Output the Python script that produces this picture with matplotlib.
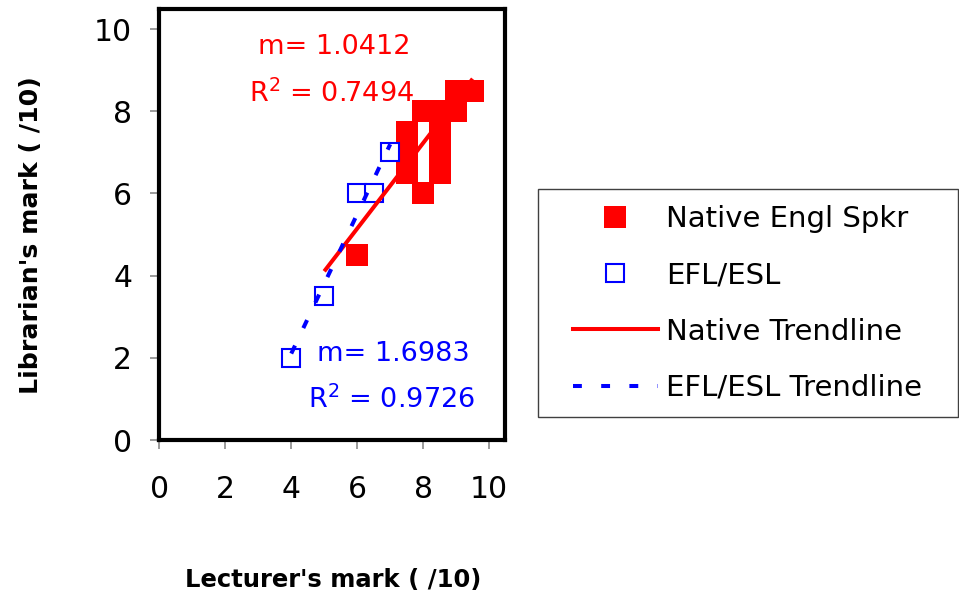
import matplotlib
matplotlib.use("Agg")
import matplotlib.pyplot as plt
from matplotlib.lines import Line2D
from matplotlib.patches import Rectangle
import numpy as np

# data
native_x = [6, 7.5, 7.5, 7.5, 8, 8, 8.5, 8.5, 8.5, 8.5, 9, 9, 9.5]
native_y = [4.5, 7.5, 7, 6.5, 6, 8, 8, 7.5, 7, 6.5, 8, 8.5, 8.5]
efl_x = [4, 5, 6, 6.5, 7]
efl_y = [2, 3.5, 6, 6, 7]

# trendlines (slope from labels, intercept estimated)
native_slope = 1.0412
native_intercept = -1.1
native_range = [5, 9.5]
native_r2 = 0.7494
efl_slope = 1.6983
efl_intercept = -4.69
efl_range = [4, 7]
efl_r2 = 0.9726

ticks = [0, 2, 4, 6, 8, 10]
legend_labels = ["Native Engl Spkr", "EFL/ESL", "Native Trendline", "EFL/ESL Trendline"]

RED = "#FF0000"
BLUE = "#0000FF"

plt.rcParams["font.family"] = ["DejaVu Sans"]
plt.rcParams["mathtext.fontset"] = "dejavusans"

fig = plt.figure(figsize=(9.59, 6.07), dpi=100)
ax = fig.add_axes([159.3 / 959, 1 - 440 / 607, (505 - 159.3) / 959, (440 - 9) / 607])

# points
ax.plot(native_x, native_y, "s", color=RED, ms=15.8, mew=0, zorder=2)
ax.plot(efl_x, efl_y, "s", mfc="white", mec=BLUE, ms=13.5, mew=1.5, zorder=3)

# trendlines
nx = np.array(native_range)
ax.plot(nx, native_slope * nx + native_intercept, color=RED, lw=2.9,
        solid_capstyle="butt", zorder=4)
ex = np.array(efl_range)
ax.plot(ex, efl_slope * ex + efl_intercept, color=BLUE, lw=2.9,
        linestyle=(0, (2.2, 4.8)), zorder=5)

# labels for slope / r2
ax.text(2.99, 9.39, f"m= {native_slope}", color=RED, fontsize=19.5, va="baseline")
ax.text(2.72, 8.22, f"R$^2$ = {native_r2}", color=RED, fontsize=19.5, va="baseline")
ax.text(4.78, 1.92, f"m= {efl_slope}", color=BLUE, fontsize=19.5, va="baseline")
ax.text(4.50, 0.78, f"R$^2$ = {efl_r2}", color=BLUE, fontsize=19.5, va="baseline")

# axes
ax.set_xlim(0, 10.48)
ax.set_ylim(0, 10.49)
ax.set_xticks(ticks)
ax.set_yticks(ticks)
ax.tick_params(axis="both", direction="out", length=6.5, width=1.1, color="#808080",
               labelsize=21.5)
ax.tick_params(axis="x", pad=19)
ax.tick_params(axis="y", pad=13)
for s in ax.spines.values():
    s.set_linewidth(3)
    s.set_color("black")

fig.text(31 / 959, 1 - 235 / 607, "Librarian's mark ( /10)", rotation=90,
         ha="center", va="center", fontsize=18.2, fontweight="bold")
fig.text(333.5 / 959, 1 - 580 / 607, "Lecturer's mark ( /10)",
         ha="center", va="center", fontsize=17.5, fontweight="bold")

# legend
handles = [
    Line2D([], [], marker="s", ls="none", color=RED, ms=15.8, mew=0),
    Line2D([], [], marker="s", ls="none", mfc="white", mec=BLUE, ms=13.5, mew=1.5),
    Line2D([], [], color=RED, lw=2.9),
    Line2D([], [], color=BLUE, lw=2.9, linestyle=(0, (2.2, 4.8))),
]
fig.legend(handles, legend_labels, loc="upper left",
           bbox_to_anchor=(573 / 959, 1 - 205 / 607), frameon=False,
           fontsize=21, handlelength=2.9, handletextpad=0.3,
           labelspacing=0.97, borderpad=0, borderaxespad=0)
fig.patches.append(Rectangle((538 / 959, 1 - 417 / 607), 420 / 959, 228 / 607,
                             transform=fig.transFigure, fill=False,
                             edgecolor="#404040", lw=1))

fig.savefig("out.png", dpi=100)
